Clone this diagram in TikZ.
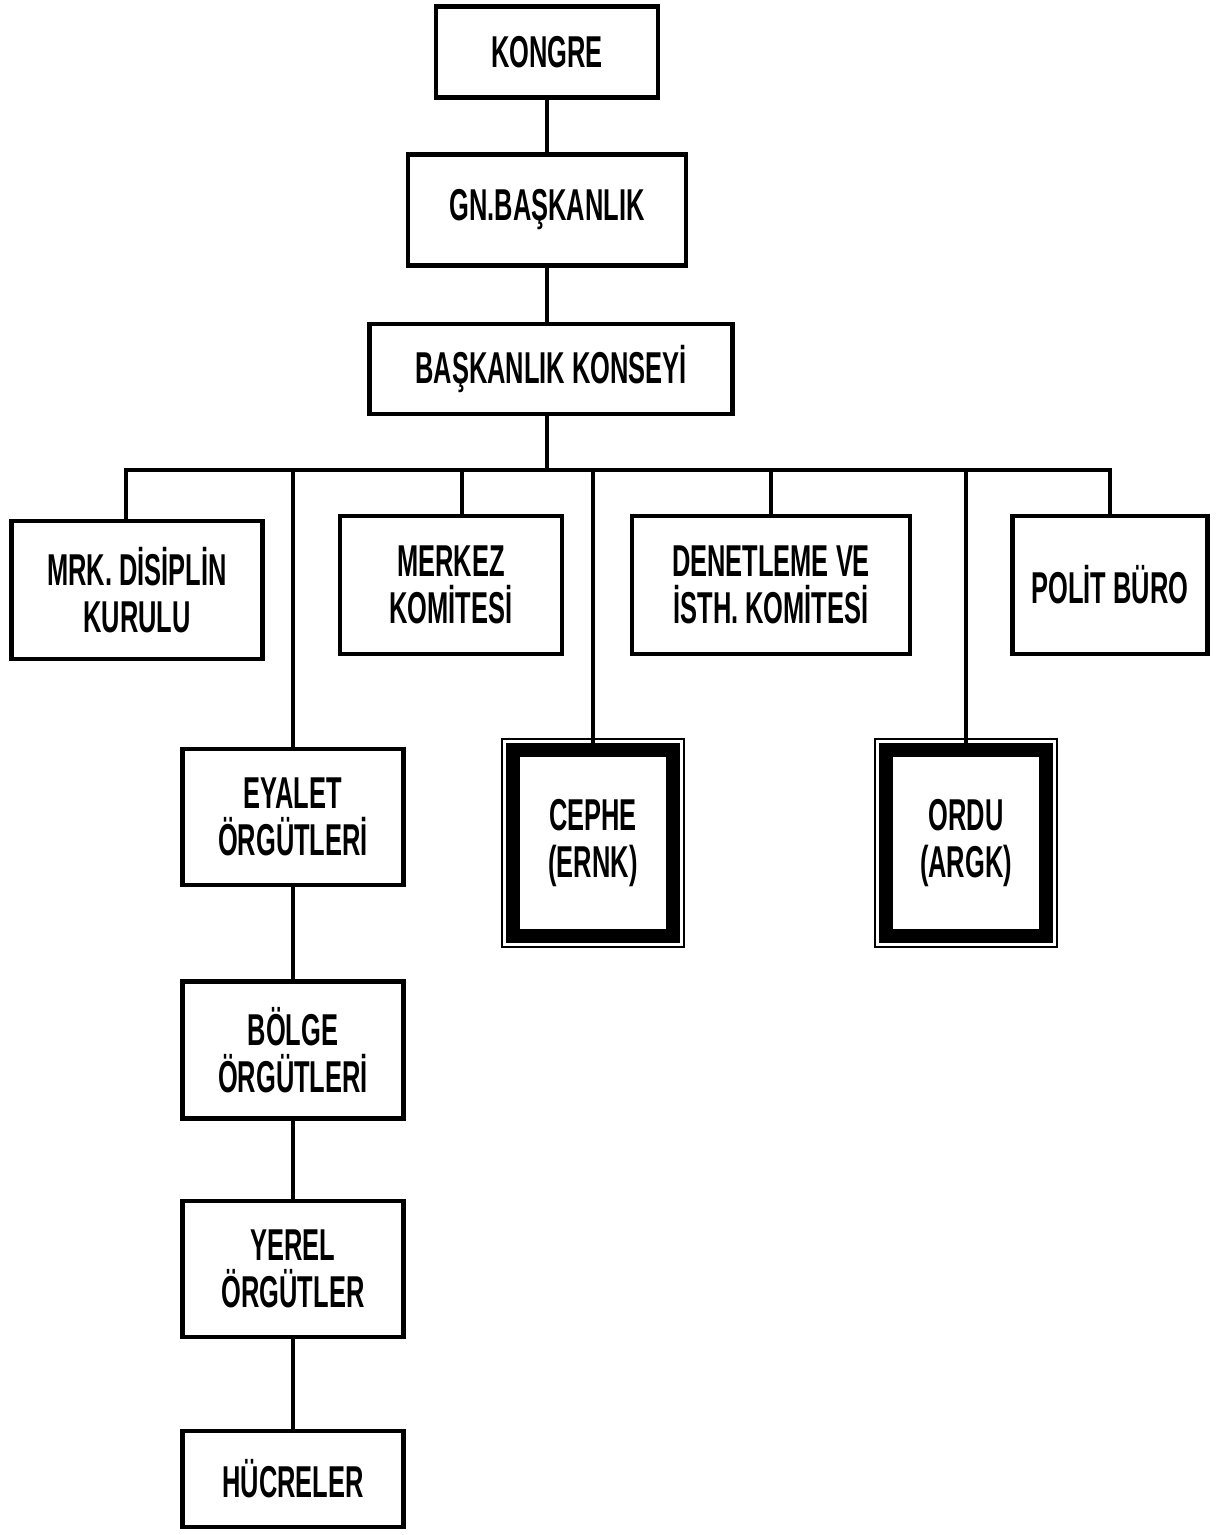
\documentclass[tikz,border=0pt]{standalone}
\usepackage{fontspec}
\setmainfont{Liberation Sans}[FakeStretch=0.57]
\usepackage{tikz}

\newcommand{\orgfont}{\bfseries\fontsize{12.7}{13.2}\selectfont}

\begin{document}
\begin{tikzpicture}[line cap=rect,line join=miter,x=0.1mm,y=-0.1mm,
    box/.style={draw,line width=1.2pt,align=center,inner sep=0pt,font=\orgfont},
    heavy/.style={draw,line width=3.9pt,align=center,inner sep=0pt,font=\orgfont,
      minimum width=1.60cm,minimum height=1.86cm},
    frame/.style={draw,line width=0.7pt},
    link/.style={draw,line width=1.1pt}]
  \useasboundingbox (0,0) rectangle (1219,1535);
  % top of the chain
  \node[box,minimum width=2.22cm,minimum height=0.91cm] (kongre) at (547,52) {KONGRE};
  \node[box,minimum width=2.78cm,minimum height=1.11cm] (gnbaskan) at (547,210) {GN.BAŞKANLIK};
  \node[box,minimum width=3.63cm,minimum height=0.90cm] (konsey) at (551,369) {BAŞKANLIK KONSEYİ};
  % second row
  \node[box,minimum width=2.51cm,minimum height=1.38cm] (disiplin) at (137,590) {MRK. DİSİPLİN\\KURULU};
  \node[box,minimum width=2.22cm,minimum height=1.38cm] (merkez) at (451,585) {MERKEZ\\KOMİTESİ};
  \node[box,minimum width=2.78cm,minimum height=1.38cm] (denetleme) at (771,585) {DENETLEME VE\\İSTH. KOMİTESİ};
  \node[box,minimum width=1.95cm,minimum height=1.38cm] (polit) at (1110,585) {POLİT BÜRO};
  % cephe and ordu
  \node[heavy] (cephe) at (593,843) {CEPHE\\(ERNK)};
  \node[heavy] (ordu) at (966,843) {ORDU\\(ARGK)};
  \draw[frame] ([shift={(-4,-4)}]cephe.north west) rectangle ([shift={(4,4)}]cephe.south east);
  \draw[frame] ([shift={(-4,-4)}]ordu.north west) rectangle ([shift={(4,4)}]ordu.south east);
  % left column
  \node[box,minimum width=2.21cm,minimum height=1.36cm] (eyalet) at (293,817) {EYALET\\ÖRGÜTLERİ};
  \node[box,minimum width=2.21cm,minimum height=1.37cm] (bolge) at (293,1050) {BÖLGE\\ÖRGÜTLERİ};
  \node[box,minimum width=2.21cm,minimum height=1.36cm] (yerel) at (293,1269) {YEREL\\ÖRGÜTLER};
  \node[box,minimum width=2.21cm,minimum height=0.96cm] (hucre) at (293,1479) {HÜCRELER};
  % connectors
  \coordinate (bus) at (547,470);
  \coordinate (busL) at (126,470);
  \coordinate (mkdrop) at (462,470);
  \draw[link] (kongre) -- (gnbaskan);
  \draw[link] (gnbaskan.south) -- (gnbaskan.south |- konsey.north);
  \draw[link] (bus |- konsey.south) -- (bus);
  \draw[link] (busL |- disiplin.north) |- (bus -| polit.north) -- (polit.north);
  \draw[link] (mkdrop) -- (mkdrop |- merkez.north);
  \draw[link] (denetleme.north |- bus) -- (denetleme.north);
  \draw[link] (eyalet.north |- bus) -- (eyalet.north);
  \draw[link] (cephe.north |- bus) -- (cephe.north);
  \draw[link] (ordu.north |- bus) -- (ordu.north);
  \draw[link] (eyalet) -- (bolge);
  \draw[link] (bolge) -- (yerel);
  \draw[link] (yerel) -- (hucre);
\end{tikzpicture}
\end{document}
